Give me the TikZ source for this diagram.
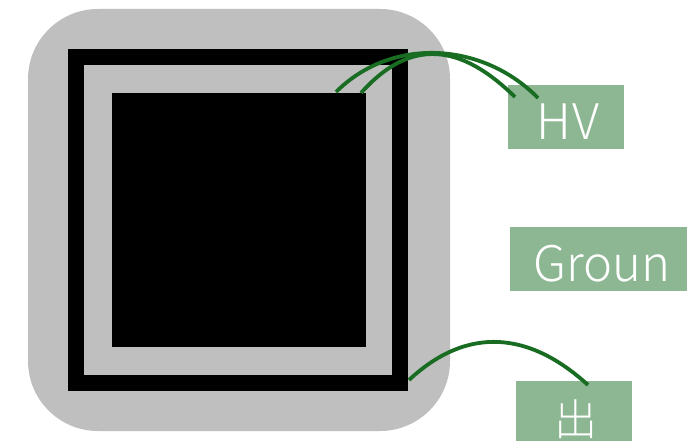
\documentclass[tikz,border=0pt]{standalone}
\usepackage{fontspec}
\newfontfamily\lbl[LetterSpace=4]{Noto Sans CJK JP Light}
\newfontfamily\lblt{Noto Sans CJK JP Light}
\definecolor{shell}{HTML}{BFBFBF}
\definecolor{tag}{HTML}{8DB692}
\definecolor{lead}{HTML}{186D22}
\tikzset{
  plate/.style={anchor=north west,inner sep=0pt,outer sep=0pt},
  tagbox/.style={plate,fill=tag},
  tagtext/.style={anchor=base,inner sep=0pt,text=white,font=\fontsize{49bp}{49bp}\selectfont\lbl},
  wire/.style={draw=lead,line width=3.8bp,line cap=butt}
}
\begin{document}
\begin{tikzpicture}[x=1bp,y=-1bp]
\useasboundingbox (0,0) rectangle (687,441);
\node[plate,fill=shell,rounded corners=70bp,minimum width=422bp,minimum height=422bp] (case) at (28,9) {};
\node[plate,fill=black,minimum width=340bp,minimum height=342bp] (outer) at (68,49) {};
\node[plate,fill=shell,minimum width=308bp,minimum height=310bp] (gap) at (84,65) {};
\node[plate,fill=black,minimum width=254bp,minimum height=254bp] (core) at (112,93) {};
\node[tagbox,minimum width=116bp,minimum height=64bp] (hv) at (508,85) {};
\node[tagbox,minimum width=177bp,minimum height=64bp] (gnd) at (510,227) {};
\node[tagbox,minimum width=116bp,minimum height=60bp] (out) at (516,381) {};
\node[tagtext] (hvt) at (568,140) {HV};
\node[tagtext,font=\fontsize{49bp}{49bp}\selectfont\lblt] (gndt) at (602,282) {Groun};
\node[tagtext,font=\fontsize{43bp}{43bp}\selectfont\lblt] (outt) at (575.5,435) {出};
\coordinate (a1) at (336,92);
\coordinate (a2) at (538,98);
\coordinate (b1) at (361,93);
\coordinate (b2) at (515,97);
\coordinate (c1) at (409,380);
\coordinate (c2) at (588,385);
\draw[wire] (a1) .. controls (392,36) and (483,42) .. (a2);
\draw[wire] (b1) .. controls (410,38) and (460,43) .. (b2);
\draw[wire] (c1) .. controls (468,325) and (530,332) .. (c2);
\end{tikzpicture}
\end{document}
